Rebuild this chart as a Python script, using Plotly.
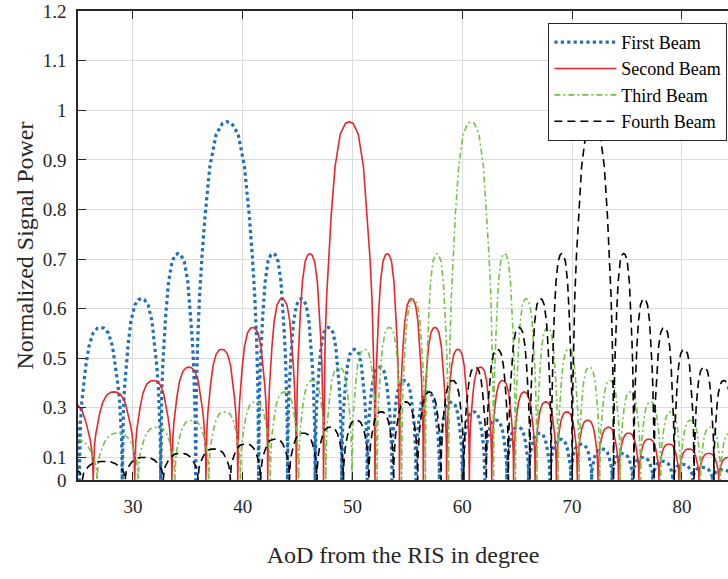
import plotly.graph_objects as go

# ---------------- data ----------------
x_range = [25, 84.2]
y_floor = 0.2544          # bottom of the axis (labelled "0")
y_top = 1.2002

x_tick_vals = [30, 40, 50, 60, 70, 80]
y_tick_vals = [y_floor, 0.3, 0.4, 0.5, 0.6, 0.7, 0.8, 0.9, 1.0, 1.1, 1.2]
y_tick_text = ["0", "0.1", "0.3", "0.5", "0.6", "0.7", "0.8", "0.9", "1", "1.1", "1.2"]

# shape of one lobe (fraction of half-width from the null -> fraction of lobe height)
lobe_frac = [0, 0.02, 0.06, 0.12, 0.2, 0.3, 0.45, 0.65, 0.85, 1.0]
lobe_shape = [0, 0.24, 0.38, 0.51, 0.625, 0.74, 0.875, 0.965, 0.995, 1.0]

# nulls (degrees) and lobe peak heights between consecutive nulls
first_zeros = [20.49, 25.11, 29.03, 32.53, 35.72, 41.45, 44.08, 46.60, 49.02, 51.34,
               53.59, 55.78, 57.92, 60.01, 62.05, 64.06, 66.03, 67.97, 69.88, 71.78,
               73.65, 75.50, 77.35, 79.17, 80.98, 82.79, 84.59]
first_peaks = [0.518, 0.562, 0.620, 0.711, 0.977, 0.711, 0.620, 0.562, 0.518, 0.482,
               0.455, 0.432, 0.412, 0.392, 0.375, 0.361, 0.349, 0.337, 0.327, 0.317,
               0.308, 0.300, 0.292, 0.286, 0.280, 0.275]

second_zeros = [22.03, 26.38, 30.16, 33.55, 36.65, 39.55, 42.28, 44.88, 47.36, 52.05,
                54.28, 56.45, 58.57, 60.64, 62.68, 64.67, 66.63, 68.57, 70.48, 72.36,
                74.23, 76.08, 77.91, 79.73, 81.55, 83.35, 85.15]
second_peaks = [0.412, 0.432, 0.455, 0.482, 0.518, 0.562, 0.620, 0.711, 0.977, 0.711,
                0.620, 0.562, 0.518, 0.482, 0.455, 0.432, 0.412, 0.392, 0.375, 0.361,
                0.349, 0.337, 0.327, 0.317, 0.308, 0.300]

third_zeros = [22.43, 26.73, 30.47, 33.82, 36.91, 39.79, 42.51, 45.10, 47.57, 49.95,
               52.24, 54.47, 56.64, 58.75, 62.85, 64.84, 66.80, 68.73, 70.64, 72.52,
               74.39, 76.24, 78.07, 79.89, 81.70, 83.51, 85.30]
third_peaks = [0.337, 0.349, 0.361, 0.375, 0.392, 0.412, 0.432, 0.455, 0.482, 0.518,
               0.562, 0.620, 0.711, 0.977, 0.711, 0.620, 0.562, 0.518, 0.482, 0.455,
               0.432, 0.412, 0.392, 0.375, 0.361, 0.349]

fourth_zeros = [20.85, 25.40, 29.29, 32.76, 35.93, 38.87, 41.64, 44.26, 46.77, 49.18,
                51.50, 53.75, 55.94, 58.07, 60.15, 62.19, 64.20, 66.16, 68.10, 70.02,
                73.78, 75.63, 77.47, 79.30, 81.11, 82.92, 84.72]
fourth_peaks = [0.286, 0.292, 0.300, 0.308, 0.317, 0.327, 0.337, 0.349, 0.361, 0.375,
                0.392, 0.412, 0.432, 0.455, 0.482, 0.518, 0.562, 0.620, 0.711, 0.977,
                0.711, 0.620, 0.562, 0.518, 0.482, 0.455]

series_names = ["First Beam", "Second Beam", "Third Beam", "Fourth Beam"]


def lobes(zeros, peaks):
    xs, ys = [], []
    for i, h in enumerate(peaks):
        z1, z2 = zeros[i], zeros[i + 1]
        mid = 0.5 * (z1 + z2)
        amp = h - y_floor
        for j, (f, a) in enumerate(zip(lobe_frac, lobe_shape)):
            if i > 0 and j == 0:
                continue
            xs.append(z1 + f * (mid - z1))
            ys.append(y_floor + a * amp)
        for f, a in zip(reversed(lobe_frac[:-1]), reversed(lobe_shape[:-1])):
            xs.append(z2 - f * (z2 - mid))
            ys.append(y_floor + a * amp)
    return xs, ys


styles = [
    dict(color="#1f70b8", width=3.2, dash="dot"),
    dict(color="#e8262b", width=1.6, dash="solid"),
    dict(color="#72c244", width=1.6, dash="6px,3px,2px,3px"),
    dict(color="#000000", width=1.6, dash="8px,5px"),
]

fig = go.Figure()
for name, (zs, ps), st in zip(series_names,
                              [(first_zeros, first_peaks), (second_zeros, second_peaks),
                               (third_zeros, third_peaks), (fourth_zeros, fourth_peaks)],
                              styles):
    xs, ys = lobes(zs, ps)
    fig.add_trace(go.Scatter(x=xs, y=ys, mode="lines", name=name, line=st))

axis_col = "#262626"
fig.update_layout(
    width=728, height=579,
    margin=dict(l=78, r=0, t=11, b=99),
    paper_bgcolor="white", plot_bgcolor="white",
    font=dict(family="Liberation Serif", size=19, color=axis_col),
    legend=dict(x=0.999, y=0.9747, xanchor="right", yanchor="top",
                bgcolor="white", bordercolor=axis_col, borderwidth=1,
                font=dict(size=18, color="#000"), itemwidth=62,
                tracegroupgap=0),
)
fig.update_xaxes(
    range=x_range, tickvals=x_tick_vals, ticks="inside", ticklen=8,
    tickcolor=axis_col, showline=True, linecolor=axis_col, linewidth=1.5,
    mirror="ticks", showgrid=True, gridcolor="#dcdcdc", gridwidth=1,
    zeroline=False, automargin=False, ticklabelstandoff=8,
    title=dict(text="AoD from the RIS in degree", font=dict(size=24), standoff=31),
)
fig.update_yaxes(
    range=[y_floor, y_top], tickvals=y_tick_vals, ticktext=y_tick_text,
    ticks="inside", ticklen=8, tickcolor=axis_col, showline=True,
    linecolor=axis_col, linewidth=1.5, showgrid=True, gridcolor="#dcdcdc",
    gridwidth=1, zeroline=False, automargin=False, ticklabelstandoff=6,
    ticklabeloverflow="allow",
    title=dict(text="Normalized Signal Power", font=dict(size=24), standoff=2),
)

fig.write_html("out.html")
